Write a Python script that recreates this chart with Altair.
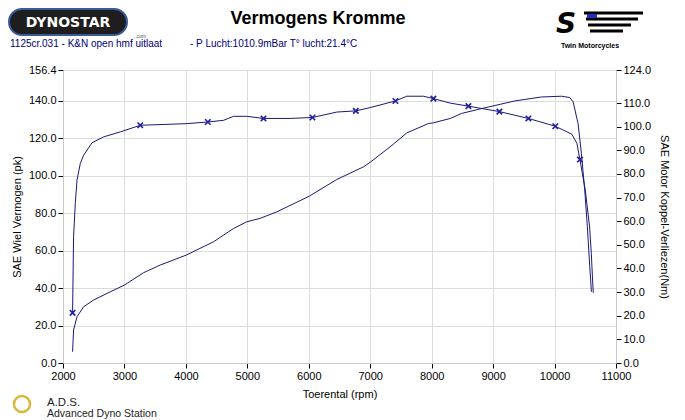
import altair as alt
import pandas as pd

# ---- data ----
power_rpm = [2156, 2172, 2228, 2335, 2498, 2769, 3000, 3311, 3583, 4006, 4450, 4775, 4992,
             5209, 5481, 6011, 6457, 6890, 7010, 7324, 7595, 7944, 8028, 8300, 8486, 8812,
             9354, 9787, 10112, 10248, 10302, 10383, 10437, 10491, 10534, 10573, 10600]
power_pk = [6.0, 17.6, 24.7, 30.0, 33.6, 38.0, 41.6, 48.2, 52.3, 57.6, 64.7, 71.8, 75.4,
            77.2, 80.7, 89.1, 98.0, 104.7, 107.4, 115.4, 122.8, 127.8, 128.2, 130.5, 133.2, 135.8,
            139.9, 142.0, 142.4, 141.7, 139.4, 127.8, 111.8, 92.3, 72.7, 51.4, 38.0]

torque_rpm = [2156, 2172, 2200, 2228, 2281, 2335, 2472, 2661, 2932, 3257, 4017, 4358, 4612,
              4775, 4992, 5263, 5697, 6060, 6457, 6766, 7000, 7410, 7595, 7866, 8028, 8300,
              8598, 9102, 9574, 10012, 10283, 10364, 10413, 10500, 10570, 10598, 10619, 10630]
torque_nm = [21.2, 53.4, 67.5, 77.4, 84.4, 87.9, 93.2, 95.7, 97.8, 100.6, 101.3, 102.0, 102.7,
             104.4, 104.4, 103.5, 103.5, 103.9, 106.2, 106.7, 108.1, 110.9, 112.9, 112.9, 111.9, 110.0,
             108.7, 106.4, 103.5, 100.2, 96.8, 92.9, 86.1, 73.2, 57.6, 46.4, 35.1, 29.7]

marker_rpm = [2156, 3257, 4358, 5263, 6060, 6766, 7410, 8028, 8598, 9102, 9574, 10012, 10413]
marker_nm = [21.2, 100.6, 102.0, 103.5, 103.9, 106.7, 110.9, 111.9, 108.7, 106.4, 103.5, 100.2, 86.1]

x_ticks = [2000, 3000, 4000, 5000, 6000, 7000, 8000, 9000, 10000, 11000]
left_ticks = [0, 20, 40, 60, 80, 100, 120, 140, 156.4]
right_ticks = [0, 10, 20, 30, 40, 50, 60, 70, 80, 90, 100, 110, 124]

power_df = pd.DataFrame({"rpm": power_rpm, "pk": power_pk})
torque_df = pd.DataFrame({"rpm": torque_rpm, "nm": torque_nm})
marker_df = pd.DataFrame({"rpm": marker_rpm, "nm": marker_nm})

FONT = "Liberation Sans"
NAVY = "#1a1a78"
one = alt.Data(values=[{}])

x_enc = alt.X("rpm:Q",
              scale=alt.Scale(domain=[2000, 11000], nice=False, zero=False),
              axis=alt.Axis(values=x_ticks, format="d", title="Toerental (rpm)",
                            grid=True, titlePadding=7, labelFlush=False, labelOverlap=False))

power = alt.Chart(power_df).mark_line(color=NAVY, strokeWidth=1).encode(
    x=x_enc,
    y=alt.Y("pk:Q", scale=alt.Scale(domain=[0, 156.4], nice=False),
            axis=alt.Axis(values=left_ticks, format=".1f", orient="left",
                          title="SAE Wiel Vermogen (pk)", grid=True, titlePadding=6,
                          labelFlush=False, labelOverlap=False)),
)

torque_y_axis = alt.Axis(values=right_ticks, format=".1f", orient="right",
                         title="SAE Motor Koppel-Verliezen(Nm)", grid=False, titlePadding=8,
                         labelFlush=False, labelOverlap=False)
torque_scale = alt.Scale(domain=[0, 124], nice=False)

torque_line = alt.Chart(torque_df).mark_line(color=NAVY, strokeWidth=1).encode(
    x=alt.X("rpm:Q"),
    y=alt.Y("nm:Q", scale=torque_scale, axis=torque_y_axis),
)
torque_pts = alt.Chart(marker_df).mark_point(
    shape="M-1,-1L1,1M-1,1L1,-1", size=30, strokeWidth=1.6, color="#1e1ea0",
    filled=False, opacity=1,
).encode(x=alt.X("rpm:Q"), y=alt.Y("nm:Q", scale=torque_scale, axis=torque_y_axis))
torque = alt.layer(torque_line, torque_pts)


def txt(text, x, y, size=11, weight="normal", color="black", align="left", font=FONT, **kw):
    return alt.Chart(one).mark_text(
        text=text, fontSize=size, fontWeight=weight, color=color, align=align,
        baseline="alphabetic", font=font, **kw
    ).encode(x=alt.value(x), y=alt.value(y))


def bar(x1, x2, y, color="black", w=3):
    return alt.Chart(one).mark_rule(color=color, strokeWidth=w).encode(
        x=alt.value(x1), x2=alt.value(x2), y=alt.value(y))


decor = [
    txt("Vermogens Kromme", 255, -46, size=18, weight="bold", align="center"),
    txt("1125cr.031 - K&N open hmf uitlaat", -53, -23, size=10, color="#000080"),
    txt("- P Lucht:1010.9mBar T° lucht:21.4°C", 127, -23, size=10, color="#000080"),
    # Dynostar badge
    alt.Chart(one).mark_rect(cornerRadius=13, color="#1e1e1e", stroke="#3a5a9a",
                             strokeWidth=2).encode(
        x=alt.value(-54), x2=alt.value(64), y=alt.value(-61), y2=alt.value(-35)),
    txt("DYNOSTAR", 5, -43, size=14, weight="bold", color="white", align="center",
        font="DejaVu Sans"),
    txt("..com", 71, -32, size=5, color="#555555"),
    # Twin Motorcycles badge
    txt("S", 503, -37, size=28, weight="bold", color="black", align="center",
        font="DejaVu Sans", fontStyle="italic"),
    bar(521, 580, -57),
    bar(523, 575, -51),
    bar(525, 568, -45),
    bar(527, 560, -39),
    bar(524, 534, -54, color="#2030c0", w=4),
    txt("Twin Motorcycles", 527, -22, size=7, weight="bold", align="center"),
    # A.D.S.
    alt.Chart(one).mark_point(shape="circle", size=260, color="#d8b840", filled=False,
                              strokeWidth=2.5, opacity=1).encode(
        x=alt.value(-41), y=alt.value(334)),
    txt("A.D.S.", -16, 336, size=11.5, color="#222222"),
    txt("Advanced Dyno Station", -16, 347, size=10.5, color="#222222"),
]

chart = alt.layer(power, torque, *decor).resolve_scale(y="independent").properties(
    width=553, height=293,
    autosize=alt.AutoSizeParams(type="none"),
    padding={"left": 55, "top": 62, "right": 60, "bottom": 57},
).configure_axis(
    labelFont=FONT, labelFontSize=11, labelColor="black", labelPadding=2,
    titleFont=FONT, titleFontSize=11, titleFontWeight="normal", titleColor="black",
    tickColor="black", tickSize=5, domainColor="#c8c8c8", gridColor="#dcdcdc",
).configure_view(stroke=None)

chart.save("out.html", embed_options={"renderer": "svg", "actions": False})
